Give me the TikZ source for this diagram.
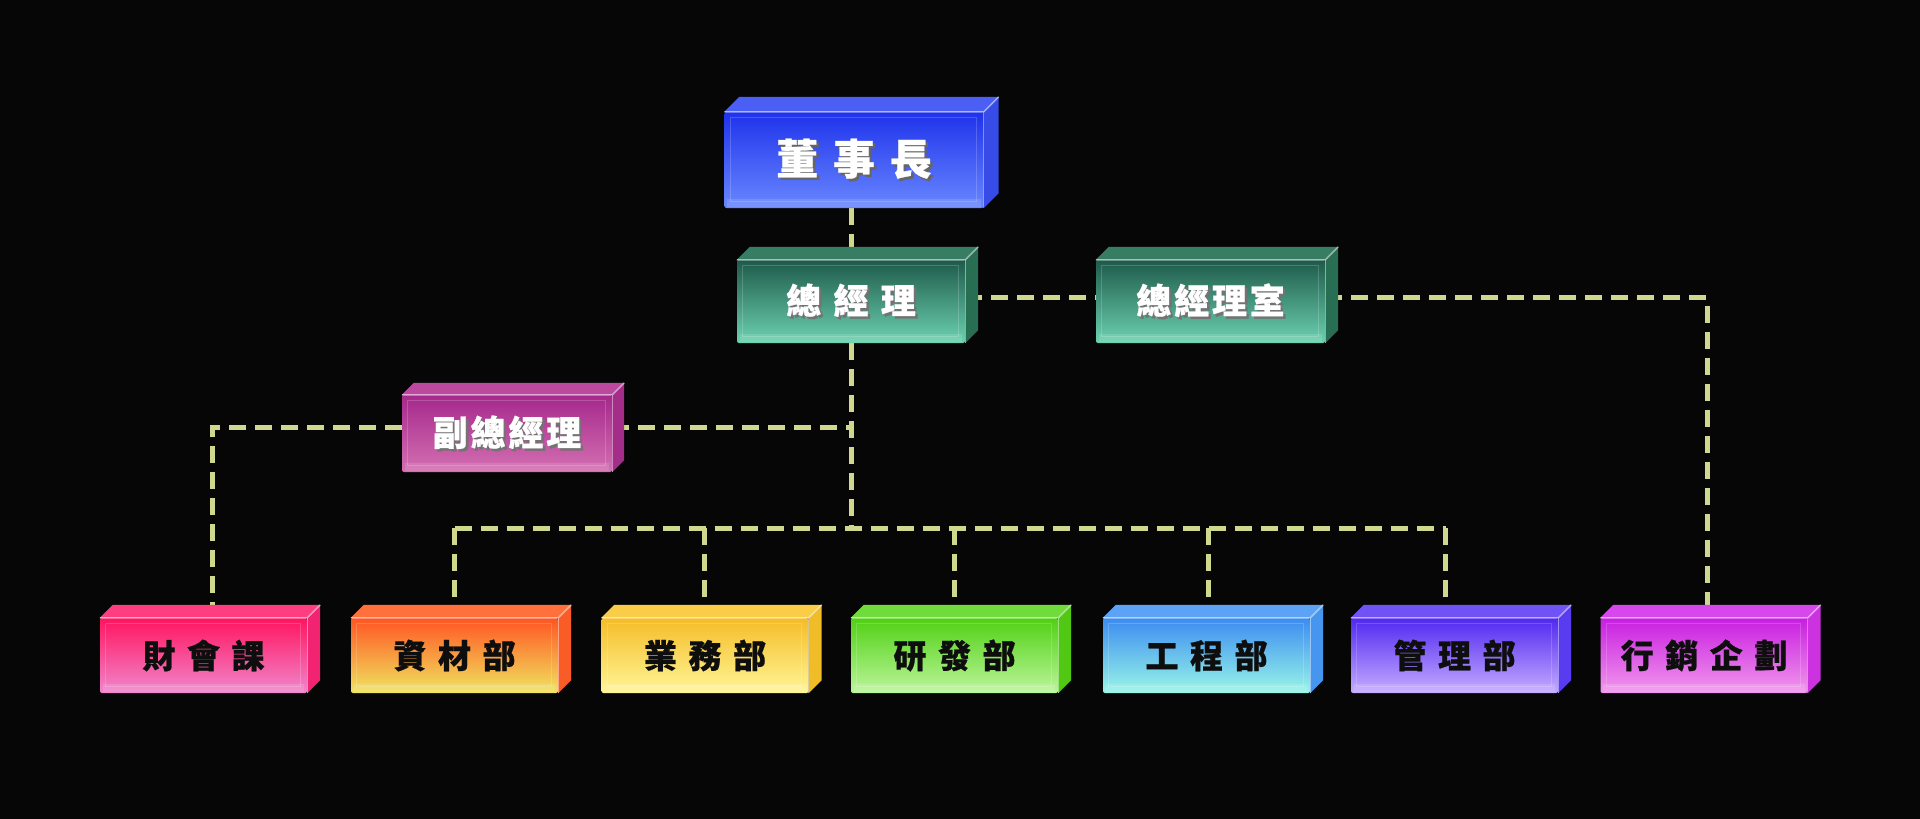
\documentclass[tikz,border=0pt]{standalone}
\usepackage{fontspec}
\newfontfamily\cjk{Noto Sans CJK TC}[BoldFeatures={FakeBold=0.6}]
\definecolor{bgc}{RGB}{6,6,6}
\definecolor{dashc}{RGB}{207,216,140}
\definecolor{txtdark}{RGB}{14,14,14}
\newcommand\kg{\hspace{0.35em}}
\newcommand\kgs{\hspace{0.08em}}
% text with a dark offset shadow
\newcommand\shtext[3]{\rlap{\kern2.5pt\raisebox{-2.5pt}{\textcolor{#1}{#3}}}\textcolor{#2}{#3}}
\newcommand\darktext[1]{\textcolor{txtdark}{#1}}
\newcommand\boxfaces[4]{%
  \fill[fill={#3}] (#1.north west) -- ++(#2,-#2) -- ([shift={(#2,-#2)}]#1.north east) -- (#1.north east) -- cycle;
  \fill[fill={#4}] (#1.north east) -- ++(#2,-#2) -- ([shift={(#2,-#2)}]#1.south east) -- (#1.south east) -- cycle;
  \draw[white,opacity=.55,line width=1.4pt,line join=round] (#1.north west) -- (#1.north east) -- ++(#2,-#2);
  \draw[white,opacity=.45,line width=1.4pt] (#1.north east) -- (#1.south east);
  \fill[white,opacity=.12] ([shift={(3,-1)}]#1.south west) rectangle ([shift={(-3,-9)}]#1.south east);
  \draw[white,opacity=.18,line width=1.2pt] ([shift={(6,-7)}]#1.south west) rectangle ([shift={(-7,6)}]#1.north east);
}
\pgfdeclarelayer{backl}
\pgfdeclarelayer{linel}
\pgfsetlayers{backl,linel,main}
\tikzset{
  front/.style={rectangle, rounded corners=2pt, inner sep=0pt},
  topbox/.style={front, font=\cjk\bfseries\fontsize{35}{35}\selectfont},
  botbox/.style={front, minimum width=207pt, minimum height=75pt, font=\cjk\bfseries\fontsize{33}{33}\selectfont},
  conn/.style={draw=dashc, line width=5pt, dash pattern=on 17pt off 9pt},
}
\begin{document}
\begin{tikzpicture}[x=1pt,y=-1pt]
\begin{pgfonlayer}{backl}
\fill[bgc] (0,0) rectangle (1920,819);
\end{pgfonlayer}
\useasboundingbox (0,0) rectangle (1920,819);

% front faces (nodes)
\node[front, minimum width=259pt, minimum height=96pt, top color={rgb,255:red,30;green,50;blue,235}, bottom color={rgb,255:red,105;green,135;blue,255}, font=\cjk\bfseries\fontsize{42}{42}\selectfont] (dsz) at (854,160) {\shtext{black!60}{white}{董\kg 事\kg 長}};
\node[topbox, minimum width=228pt, minimum height=83pt, top color={rgb,255:red,30;green,90;blue,74}, bottom color={rgb,255:red,108;green,210;blue,176}] (zjl) at (851,301.5) {\shtext{black!55}{white}{總\kg 經\kg 理}};
\node[topbox, minimum width=229pt, minimum height=83pt, top color={rgb,255:red,30;green,90;blue,74}, bottom color={rgb,255:red,108;green,210;blue,176}] (zjls) at (1210.5,301.5) {\shtext{black!55}{white}{總\kgs 經\kgs 理\kgs 室}};
\node[topbox, minimum width=210pt, minimum height=77pt, top color={rgb,255:red,165;green,40;blue,140}, bottom color={rgb,255:red,212;green,112;blue,178}] (fzjl) at (507,433.5) {\shtext{black!55}{white}{副\kgs 總\kgs 經\kgs 理}};

\node[botbox, top color={rgb,255:red,255;green,20;blue,95}, bottom color={rgb,255:red,240;green,135;blue,205}] (cwk) at (203.5,655.5) {\darktext{財\kg 會\kg 課}};
\node[botbox, top color={rgb,255:red,255;green,85;blue,35}, bottom color={rgb,255:red,240;green,228;blue,95}] (zcb) at (454.5,655.5) {\darktext{資\kg 材\kg 部}};
\node[botbox, top color={rgb,255:red,245;green,188;blue,40}, bottom color={rgb,255:red,255;green,246;blue,150}] (ywb) at (705,655.5) {\darktext{業\kg 務\kg 部}};
\node[botbox, top color={rgb,255:red,80;green,208;blue,20}, bottom color={rgb,255:red,188;green,246;blue,155}] (yfb) at (954.5,655.5) {\darktext{研\kg 發\kg 部}};
\node[botbox, top color={rgb,255:red,60;green,140;blue,240}, bottom color={rgb,255:red,152;green,246;blue,232}] (gcb) at (1206.5,655.5) {\darktext{工\kg 程\kg 部}};
\node[botbox, top color={rgb,255:red,80;green,40;blue,240}, bottom color={rgb,255:red,198;green,172;blue,255}] (glb) at (1454.5,655.5) {\darktext{管\kg 理\kg 部}};
\node[botbox, top color={rgb,255:red,200;green,30;blue,225}, bottom color={rgb,255:red,242;green,152;blue,236}] (xxqh) at (1704,655.5) {\darktext{行\kg 銷\kg 企\kg 劃}};

% 3D faces
\boxfaces{dsz}{15}{rgb,255:red,75;green,95;blue,245}{rgb,255:red,55;green,75;blue,230}
\boxfaces{zjl}{13}{rgb,255:red,55;green,125;blue,100}{rgb,255:red,40;green,110;blue,82}
\boxfaces{zjls}{13}{rgb,255:red,55;green,125;blue,100}{rgb,255:red,40;green,110;blue,82}
\boxfaces{fzjl}{12}{rgb,255:red,188;green,72;blue,160}{rgb,255:red,165;green,45;blue,138}
\boxfaces{cwk}{13}{rgb,255:red,255;green,62;blue,130}{rgb,255:red,242;green,35;blue,112}
\boxfaces{zcb}{13}{rgb,255:red,255;green,112;blue,60}{rgb,255:red,250;green,92;blue,40}
\boxfaces{ywb}{13}{rgb,255:red,250;green,205;blue,72}{rgb,255:red,240;green,188;blue,40}
\boxfaces{yfb}{13}{rgb,255:red,112;green,220;blue,60}{rgb,255:red,80;green,200;blue,20}
\boxfaces{gcb}{13}{rgb,255:red,92;green,162;blue,245}{rgb,255:red,70;green,150;blue,240}
\boxfaces{glb}{13}{rgb,255:red,112;green,82;blue,245}{rgb,255:red,90;green,60;blue,240}
\boxfaces{xxqh}{13}{rgb,255:red,215;green,72;blue,236}{rgb,255:red,205;green,50;blue,225}

% connectors
\coordinate (bus) at (851,528);
\begin{pgfonlayer}{linel}
\draw[conn] (dsz.south -| zjl.north) -- (zjl.north);
\draw[conn] ([shift={(0,-4)}]zjl.east) -- ([shift={(0,-4)}]zjls.west);
\draw[conn] ([shift={(0,-4)}]zjls.east) -| ([shift={(3,0)}]xxqh.north);
\draw[conn] (zjl.south) -- (bus);
\draw[conn] ([shift={(0,-6)}]fzjl.east) -- ([shift={(0,-6)}]fzjl.east -| bus);
\draw[conn] ([shift={(0,-6)}]fzjl.west) -| ([shift={(9,0)}]cwk.north);
\draw[conn] (zcb.north |- bus) -- ([shift={(-9,0)}]glb.north |- bus);
\draw[conn] (zcb.north |- bus) -- (zcb.north);
\draw[conn] ([shift={(-1,0)}]ywb.north |- bus) -- ([shift={(-1,0)}]ywb.north);
\draw[conn] (yfb.north |- bus) -- (yfb.north);
\draw[conn] ([shift={(1.5,0)}]gcb.north |- bus) -- ([shift={(1.5,0)}]gcb.north);
\draw[conn] ([shift={(-9,0)}]glb.north |- bus) -- ([shift={(-9,0)}]glb.north);
\end{pgfonlayer}
\end{tikzpicture}
\end{document}
